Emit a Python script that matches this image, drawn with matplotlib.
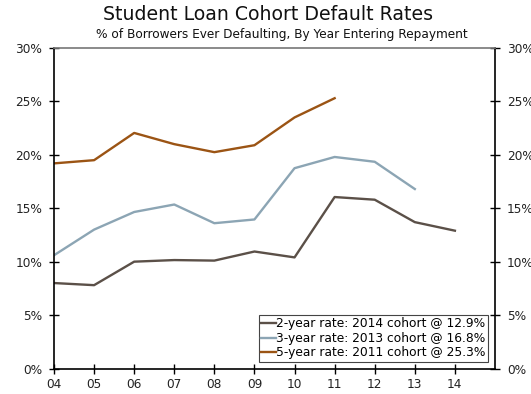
import matplotlib
matplotlib.use("Agg")
import matplotlib.pyplot as plt
from matplotlib.ticker import PercentFormatter

# Year entering repayment (two-digit labels)
years = [4, 5, 6, 7, 8, 9, 10, 11, 12, 13, 14]
year_labels = ["04", "05", "06", "07", "08", "09", "10", "11", "12", "13", "14"]

# Cohort default rates, %
two_year = [8.0, 7.8, 10.0, 10.15, 10.1, 10.95, 10.4, 16.05, 15.8, 13.7, 12.9]
three_year = [10.6, 13.0, 14.65, 15.35, 13.6, 13.95, 18.75, 19.8, 19.35, 16.8]
five_year = [19.2, 19.5, 22.05, 21.0, 20.25, 20.9, 23.5, 25.3]

labels = [
    "2-year rate: 2014 cohort @ 12.9%",
    "3-year rate: 2013 cohort @ 16.8%",
    "5-year rate: 2011 cohort @ 25.3%",
]
colors = ["#5b5048", "#8ca5b4", "#9b5414"]

fig = plt.figure(figsize=(5.31, 3.94), dpi=100)
ax = fig.add_axes([54 / 531, 1 - 368.5 / 394, 441 / 531, 320.5 / 394])

for vals, lab, col in zip([two_year, three_year, five_year], labels, colors):
    ax.plot(years[:len(vals)], vals, color=col, lw=1.7, label=lab)

ax.set_xlim(4, 15)
ax.set_ylim(0, 30)
ax.set_xticks(years)
ax.set_xticklabels(year_labels)
ax.set_yticks(range(0, 31, 5))
ax.yaxis.set_major_formatter(PercentFormatter(decimals=0))

ax.tick_params(axis="both", direction="inout", length=7, width=1,
               labelsize=8.7, colors="black", labelcolor="#222222")
ax.tick_params(axis="y", right=True, labelright=True, pad=5)
ax.tick_params(axis="x", pad=3)

for side in ["left", "right", "bottom"]:
    ax.spines[side].set_linewidth(1.2)
    ax.spines[side].set_color("black")
ax.spines["top"].set_color("#777777")
ax.spines["top"].set_linewidth(1.2)

leg = ax.legend(loc="lower right", fontsize=8.8, handlelength=1.2,
                handletextpad=0.05, borderpad=0.2, labelspacing=0.12,
                fancybox=False, framealpha=1, borderaxespad=0.55)
leg.get_frame().set_edgecolor("#444444")
leg.get_frame().set_linewidth(0.8)

fig.text(0.505, 0.962, "Student Loan Cohort Default Rates", ha="center",
         va="center", fontsize=13.6, color="#111111")
fig.text(0.53, 0.913, "% of Borrowers Ever Defaulting, By Year Entering Repayment",
         ha="center", va="center", fontsize=8.7, color="#111111")

fig.savefig("out.png", dpi=100)
